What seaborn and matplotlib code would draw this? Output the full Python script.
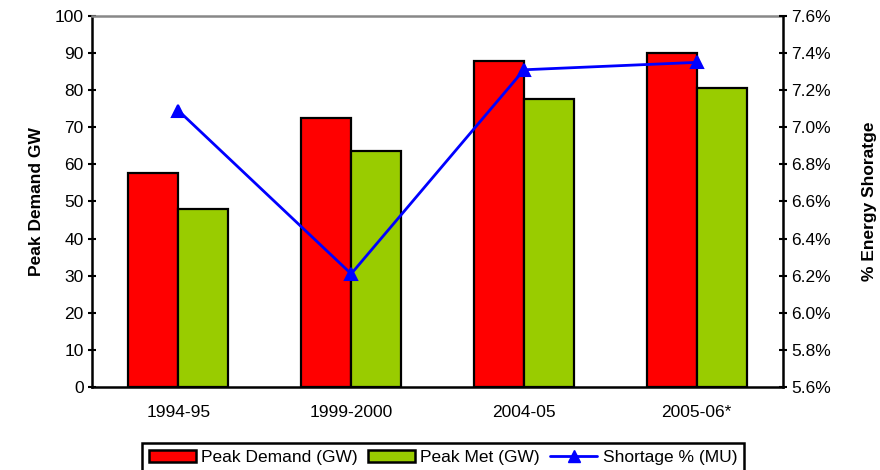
import matplotlib
matplotlib.use("Agg")
import matplotlib.pyplot as plt
import seaborn as sns
import pandas as pd
from matplotlib.patches import Patch
from matplotlib.lines import Line2D
from matplotlib.ticker import FuncFormatter

categories = ["1994-95", "1999-2000", "2004-05", "2005-06*"]
peak_demand = [57.6, 72.5, 87.9, 90.0]
peak_met = [48.1, 63.6, 77.6, 80.6]
shortage_pct = [7.09, 6.21, 7.31, 7.35]

series_names = ["Peak Demand (GW)", "Peak Met (GW)"]
line_name = "Shortage % (MU)"

sns.set_style("white")
plt.rcParams["font.family"] = ["Liberation Sans", "DejaVu Sans"]
plt.rcParams["text.color"] = "black"
plt.rcParams["axes.labelcolor"] = "black"
plt.rcParams["xtick.color"] = "black"
plt.rcParams["ytick.color"] = "black"
FS = 12.5

df = pd.DataFrame({
    "cat": categories * 2,
    "val": peak_demand + peak_met,
    "series": [series_names[0]] * 4 + [series_names[1]] * 4,
})

fig = plt.figure(figsize=(8.8, 4.7), dpi=100)
ax = fig.add_axes([0.1045, 0.1766, 0.7855, 0.7894])

colors = ["#FF0000", "#99CC00"]
sns.barplot(data=df, x="cat", y="val", hue="series", palette=colors,
            width=0.58, edgecolor="black", linewidth=1.6, ax=ax, legend=False,
            saturation=1)
ax.set_xlim(-0.5, 3.5)
ax.set_ylim(0, 100)
ax.set_yticks(range(0, 101, 10))
ax.set_xlabel("")
ax.set_ylabel("Peak Demand GW", fontsize=FS, fontweight="bold", labelpad=8)
ax.set_xticks([-0.5, 0.5, 1.5, 2.5, 3.5], minor=True)
ax.tick_params(axis="x", which="major", length=0, labelsize=FS, pad=13)
ax.tick_params(axis="x", which="minor", length=6, width=1.5, direction="inout", color="black")
ax.tick_params(axis="y", length=6, width=1.5, direction="inout", labelsize=FS, color="black", pad=3)

for s in ["left", "bottom"]:
    ax.spines[s].set_color("black")
    ax.spines[s].set_linewidth(1.8)
ax.spines["top"].set_color("#888888")
ax.spines["top"].set_linewidth(1.8)
ax.spines["right"].set_visible(False)

ax2 = ax.twinx()
sdf = pd.DataFrame({"cat": categories, "pct": shortage_pct})
sns.pointplot(data=sdf, x="cat", y="pct", color="#0000FF", markers="^",
              markersize=9, linewidth=2, ax=ax2)
ax2.set_xlim(-0.5, 3.5)
ax2.set_ylim(5.6, 7.6)
ax2.set_yticks([5.6 + 0.2 * i for i in range(11)])
ax2.yaxis.set_major_formatter(FuncFormatter(lambda v, p: f"{v:.1f}%"))
ax2.set_ylabel("% Energy Shoratge", fontsize=FS, fontweight="bold", rotation=90, labelpad=22)
ax2.set_xlabel("")
ax2.tick_params(axis="y", length=6, width=1.5, direction="inout", labelsize=FS, color="black", pad=3)
for s in ["left", "bottom", "top"]:
    ax2.spines[s].set_visible(False)
ax2.spines["right"].set_color("black")
ax2.spines["right"].set_linewidth(1.8)

handles = [
    Patch(facecolor=colors[0], edgecolor="black", linewidth=1.8, label=series_names[0]),
    Patch(facecolor=colors[1], edgecolor="black", linewidth=1.8, label=series_names[1]),
    Line2D([0], [0], color="#0000FF", lw=2, marker="^", markersize=9, label=line_name),
]
leg = ax.legend(handles=handles, loc="upper center", bbox_to_anchor=(0.508, -0.15),
                ncol=3, frameon=True, fancybox=False, fontsize=FS, framealpha=1,
                handlelength=2.7, handleheight=0.7, handletextpad=0.3, columnspacing=0.6,
                borderpad=0.4, borderaxespad=0)
leg.get_frame().set_edgecolor("black")
leg.get_frame().set_linewidth(1.8)

fig.savefig("out.png", dpi=100)
